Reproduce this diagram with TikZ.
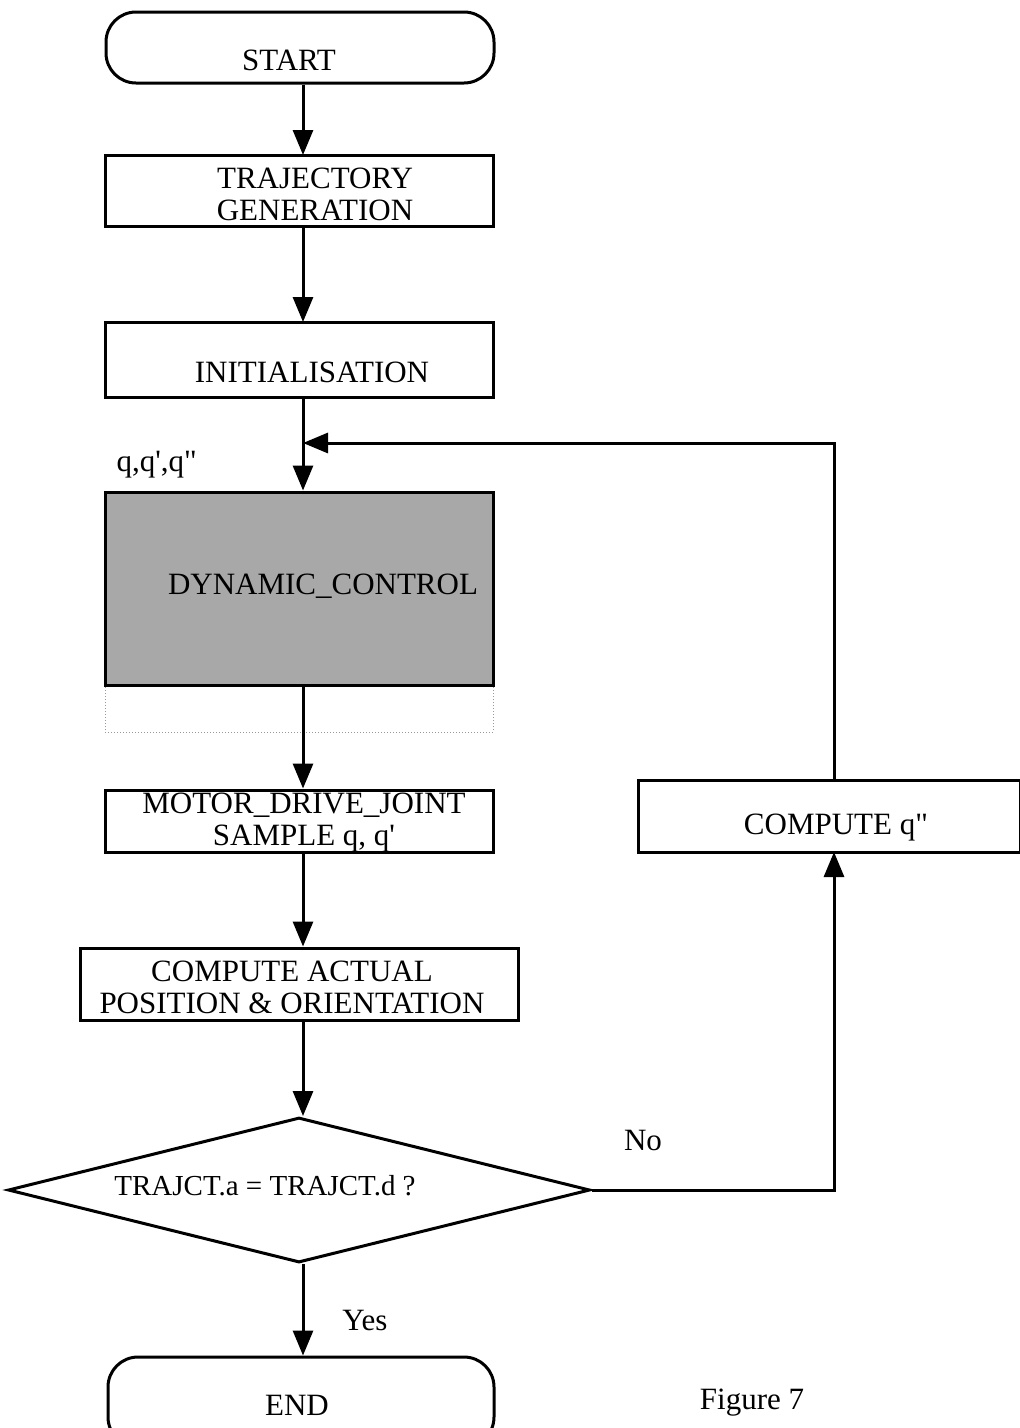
\documentclass[tikz,border=0pt]{standalone}
\usepackage{fontspec}
\setmainfont{Liberation Serif}
\usetikzlibrary{arrows.meta,shapes.geometric}
\newcommand{\sq}{\textquotesingle}
\newcommand{\dq}{\textquotedbl}
\begin{document}
\begin{tikzpicture}[x=1pt,y=-1pt,
  line width=3pt,
  lbl/.style={font=\fontsize{31}{32}\selectfont, inner sep=0pt, align=center},
  stepbox/.style={draw, rectangle, inner sep=0pt},
  termbox/.style={draw, rectangle, rounded corners=30pt, inner sep=0pt},
  flow/.style={-{Triangle[length=25pt,width=20pt]}}]
\useasboundingbox (0,0) rectangle (1020,1428);

% terminal and process boxes
\node[termbox, minimum width=388pt, minimum height=71pt] (start) at (300,47.5) {};
\node[lbl] (tstart) at (289,60) {START};

\node[stepbox, minimum width=388pt, minimum height=71pt] (traj) at (299,190.5) {};
\node[lbl] (ttraj) at (315,194) {TRAJECTORY\\GENERATION};

\node[stepbox, minimum width=388pt, minimum height=75pt] (init) at (299,359.5) {};
\node[lbl] (tinit) at (312,372) {INITIALISATION};

\node[lbl, anchor=west] (qlab) at (115,465) {q,q\sq,q\dq};

% shaded control block with its dotted extension below
\node[draw=black!40, dotted, line width=1pt, rectangle, minimum width=388pt,
      minimum height=47pt, inner sep=0pt] (dynext) at (299,708.5) {};
\node[stepbox, fill=black!34, minimum width=388pt, minimum height=193pt] (dyn) at (299,588.5) {};
\node[lbl] (tdyn) at (323,586) {DYNAMIC\_CONTROL};

\node[stepbox, minimum width=388pt, minimum height=62pt] (motor) at (299,821) {};
\node[lbl] (tmotor) at (304,823) {MOTOR\_DRIVE\_JOINT\\SAMPLE q, q\sq};

\node[stepbox, minimum width=438pt, minimum height=72pt] (actual) at (299,984) {};
\node[lbl] (tactual) at (292,987) {COMPUTE ACTUAL\\POSITION \& ORIENTATION};

\node[draw, diamond, minimum width=582pt, minimum height=145pt, aspect=4, inner sep=0pt] (test) at (299,1190) {};
\node[lbl, font=\fontsize{29}{30}\selectfont] (ttest) at (265,1186) {TRAJCT.a = TRAJCT.d ?};

\node[stepbox, minimum width=382pt, minimum height=72pt] (cq) at (829,816) {};
\node[lbl] (tcq) at (836,828) {COMPUTE q\dq};

\node[termbox, minimum width=386pt, minimum height=90pt] (finish) at (301,1402) {};
\node[lbl] (tend) at (297,1405) {END};

\node[lbl] (tno) at (643,1140) {No};
\node[lbl] (tyes) at (365,1320) {Yes};
\node[lbl] (tfig) at (752,1403) {Figure 7};

% connectors
\coordinate (join) at (303,443);
\draw[flow] (start.south -| 303,0) -- (303,155);
\draw[flow] (traj.south -| 303,0) -- (303,322);
\draw (init.south -| 303,0) -- (join);
\draw[flow] (join) -- (dyn.north -| 303,0);
\draw[flow] (dyn.south -| 303,0) -- (motor.north -| 303,0);
\draw[flow] (motor.south -| 303,0) -- (actual.north -| 303,0);
\draw[flow] (actual.south -| 303,0) -- (test.north -| 303,0);
\draw[flow] (test.south -| 303,0) -- (finish.north -| 303,0);
\draw[flow] (test.east) -| (834,852);
\draw[flow] (834,780) |- (join);
\end{tikzpicture}
\end{document}
